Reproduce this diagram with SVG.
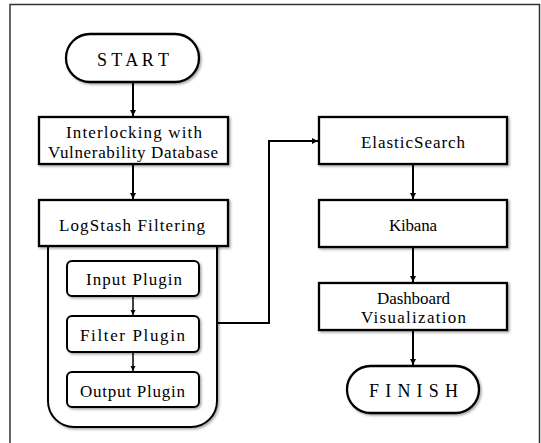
<svg xmlns="http://www.w3.org/2000/svg" width="541" height="443" viewBox="0 0 541 443">
<defs>
<filter id="sh" x="-10%" y="-10%" width="125%" height="130%">
<feDropShadow dx="1.5" dy="1.5" stdDeviation="1" flood-color="#000" flood-opacity="0.35"/>
</filter>
<marker id="ah" markerUnits="userSpaceOnUse" markerWidth="8" markerHeight="8" refX="6" refY="3" orient="auto">
<path d="M0,0 L6,3 L0,6 Z" fill="#000"/>
</marker>
<marker id="ahs" markerUnits="userSpaceOnUse" markerWidth="8" markerHeight="8" refX="5" refY="2.5" orient="auto">
<path d="M0,0 L5,2.5 L0,5 Z" fill="#000"/>
</marker>
</defs>
<style>
.box{fill:#fff;stroke:#000;stroke-width:2.3;filter:url(#sh)}
.pl{fill:#fff;stroke:#000;stroke-width:2;filter:url(#sh)}
.t{font-family:"Liberation Serif","Times New Roman",serif;font-size:17px;fill:#000;text-anchor:middle}
.big{font-size:18px}
.c{fill:none;stroke:#000;stroke-width:2}
.cs{fill:none;stroke:#000;stroke-width:1.5}
</style>
<path d="M10,443 V4.5 H539.5 V443" fill="none" stroke="#333" stroke-width="1.5"/>

<g id="start">
<rect class="box" x="66" y="34" width="133" height="48" rx="24"/>
<text class="t big" x="133" y="66" textLength="72" lengthAdjust="spacing">S T A R T</text>
</g>
<g id="interlocking">
<rect class="box" x="39" y="117" width="189" height="47"/>
<text class="t" x="134" y="138" textLength="136" lengthAdjust="spacing">Interlocking with</text>
<text class="t" x="133" y="158" textLength="170" lengthAdjust="spacing">Vulnerability Database</text>
</g>
<g id="logstash-container">
<path class="pl" d="M48,240 V401 A26,26 0 0 0 74,427 H191 A26,26 0 0 0 217,401 V240"/>
</g>
<g id="logstash">
<rect class="box" x="39" y="200" width="189" height="46"/>
<text class="t" x="132" y="231" textLength="146" lengthAdjust="spacing">LogStash Filtering</text>
</g>
<g id="input-plugin">
<rect class="pl" x="67" y="261" width="132" height="35" rx="5"/>
<text class="t" x="134" y="285" textLength="96" lengthAdjust="spacing">Input Plugin</text>
</g>
<g id="filter-plugin">
<rect class="pl" x="67" y="316" width="132" height="36" rx="5"/>
<text class="t" x="132.5" y="341" textLength="105" lengthAdjust="spacing">Filter Plugin</text>
</g>
<g id="output-plugin">
<rect class="pl" x="67" y="372" width="132" height="35" rx="5"/>
<text class="t" x="132.5" y="397" textLength="105" lengthAdjust="spacing">Output Plugin</text>
</g>
<g id="elasticsearch">
<rect class="box" x="319" y="117" width="188" height="47"/>
<text class="t" x="413" y="148" textLength="104" lengthAdjust="spacing">ElasticSearch</text>
</g>
<g id="kibana">
<rect class="box" x="319" y="200" width="188" height="47"/>
<text class="t" x="413" y="231" textLength="48" lengthAdjust="spacing">Kibana</text>
</g>
<g id="dashboard">
<rect class="box" x="319" y="283" width="188" height="47"/>
<text class="t" x="413.5" y="304" textLength="73" lengthAdjust="spacing">Dashboard</text>
<text class="t" x="413.5" y="323" textLength="105" lengthAdjust="spacing">Visualization</text>
</g>
<g id="finish">
<rect class="box" x="347" y="366" width="132" height="47" rx="23.5"/>
<text class="t big" x="413.5" y="397" textLength="89" lengthAdjust="spacing">F I N I S H</text>
</g>

<g id="connectors">
<path class="c" d="M133,83 V116" marker-end="url(#ah)"/>
<path class="c" d="M133,165 V199" marker-end="url(#ah)"/>
<path class="cs" d="M133,297 V315" marker-end="url(#ahs)"/>
<path class="cs" d="M133,353 V371" marker-end="url(#ahs)"/>
<path class="c" d="M218,323 H269 V141 H318" marker-end="url(#ah)"/>
<path class="c" d="M413,165 V199" marker-end="url(#ah)"/>
<path class="c" d="M413,248 V282" marker-end="url(#ah)"/>
<path class="c" d="M413,331 V365" marker-end="url(#ah)"/>
</g>
</svg>
